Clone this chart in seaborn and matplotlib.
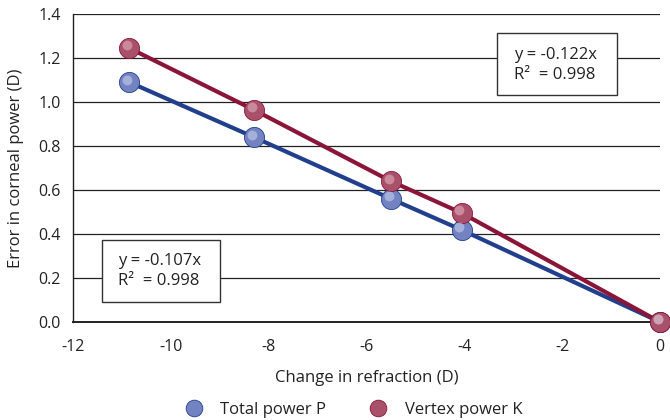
import matplotlib
matplotlib.use("Agg")
import matplotlib.pyplot as plt
from matplotlib.patches import Rectangle
from matplotlib.lines import Line2D
import seaborn as sns
import pandas as pd

# Data
refraction = [-10.85, -8.3, -5.5, -4.05, 0.0]
total_power_P = [1.09, 0.84, 0.56, 0.418, 0.0]
vertex_power_K = [1.245, 0.964, 0.64, 0.495, 0.0]
series_names = ["Total power P", "Vertex power K"]
x_ticks = [-12, -10, -8, -6, -4, -2, 0]
y_ticks = [0.0, 0.2, 0.4, 0.6, 0.8, 1.0, 1.2, 1.4]
fit_texts = ["y = -0.107x\nR\u00b2  = 0.998", "y = -0.122x\nR\u00b2  = 0.998"]

line_colors = ["#213f8c", "#8b1538"]
marker_colors = ["#7383c2", "#a9506a"]
highlight_colors = ["#b9c3e8", "#d9a3b2"]

df = pd.DataFrame({
    "x": refraction * 2,
    "y": total_power_P + vertex_power_K,
    "series": [series_names[0]] * len(refraction) + [series_names[1]] * len(refraction),
})

sns.set_style("white")
plt.rcParams["font.family"] = ["Open Sans", "DejaVu Sans"]

fig = plt.figure(figsize=(6.7, 4.2), dpi=100)
ax = fig.add_axes([73 / 670, 1 - 322 / 420, 587 / 670, 308 / 420])

sns.lineplot(data=df, x="x", y="y", hue="series", palette=line_colors,
             linewidth=3, ax=ax, legend=False, sort=False)
for i, name in enumerate(series_names):
    sub = df[df["series"] == name]
    sns.scatterplot(data=sub, x="x", y="y", color=marker_colors[i], s=210,
                    edgecolor=line_colors[i], linewidth=0.6, ax=ax,
                    legend=False, zorder=5, clip_on=False)
    # sphere highlight
    ax.scatter(sub["x"] - 0.05, sub["y"] + 0.012, s=50, color=highlight_colors[i],
               alpha=0.7, linewidths=0, zorder=6, clip_on=False)

ax.set_xlim(-12, 0)
ax.set_ylim(0, 1.4)
ax.set_xticks(x_ticks)
ax.set_yticks(y_ticks)
ax.set_xticklabels([str(v) for v in x_ticks])
ax.set_yticklabels([f"{v:.1f}" for v in y_ticks])
ax.tick_params(axis="both", length=0, labelsize=11.5, colors="#222222")
ax.tick_params(axis="x", pad=12)
ax.tick_params(axis="y", pad=9)
ax.yaxis.grid(True, color="#222222", linewidth=0.9)
ax.xaxis.grid(False)
ax.set_axisbelow(True)
for s in ["top", "right"]:
    ax.spines[s].set_visible(False)
ax.spines["left"].set_color("#222222")
ax.spines["bottom"].set_color("#222222")
ax.spines["left"].set_linewidth(1.0)
ax.spines["bottom"].set_linewidth(1.4)

ax.set_xlabel("Change in refraction (D)", fontsize=12, color="#222222", labelpad=11)
ax.set_ylabel("Error in corneal power (D)", fontsize=12, color="#222222", labelpad=10)

# Fit annotation boxes (axes fractions)
boxes = [(0.049, 0.065, 0.201, 0.201), (0.722, 0.737, 0.205, 0.201)]
text_pos = [(0.077, 0.166), (0.751, 0.834)]
for (bx, by, bw, bh), (tx, ty), txt in zip(boxes, text_pos, fit_texts):
    ax.add_patch(Rectangle((bx, by), bw, bh, transform=ax.transAxes,
                           facecolor="white", edgecolor="#333333", linewidth=1.0, zorder=7))
    ax.text(tx, ty, txt, transform=ax.transAxes, fontsize=12, color="#222222",
            ha="left", va="center", linespacing=1.3, zorder=8)

handles = [Line2D([0], [0], marker="o", linestyle="none", markersize=12,
                  markerfacecolor=marker_colors[i], markeredgecolor=line_colors[i],
                  markeredgewidth=0.6) for i in range(2)]
fig.legend(handles, series_names, loc="lower center", bbox_to_anchor=(0.522, -0.03),
           ncol=2, frameon=False, fontsize=12, columnspacing=2.1, handletextpad=0.6,
           labelcolor="#222222")

fig.savefig("out.png", dpi=100)
